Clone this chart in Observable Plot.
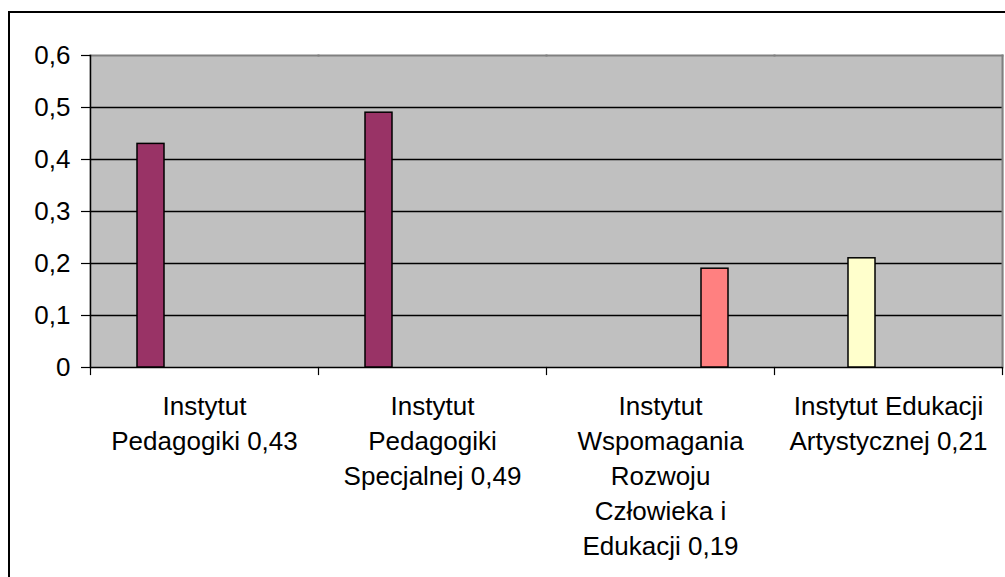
<!DOCTYPE html>
<html>
<head>
<meta charset="utf-8">
<script src="https://cdn.jsdelivr.net/npm/d3@7"></script>
<script src="https://cdn.jsdelivr.net/npm/@observablehq/plot@0.6"></script>
<style>
  html, body { margin: 0; padding: 0; background: #fff; overflow: hidden; }
  #wrap { position: relative; width: 1005px; height: 577px; }
  #border { position: absolute; left: 8px; top: 11px; width: 1100px; height: 700px;
            border-left: 2px solid #000; border-top: 2px solid #000; pointer-events: none; }
  #chart { position: absolute; left: 0; top: 0; }
</style>
</head>
<body>
<div id="wrap"><div id="chart"></div><div id="border"></div></div>
<script>
// Data
const categories = [
  "Instytut Pedagogiki",
  "Instytut Pedagogiki Specjalnej",
  "Instytut Wspomagania Rozwoju Człowieka i Edukacji",
  "Instytut Edukacji Artystycznej"
];
const categoryLabels = [
  "Instytut\nPedagogiki 0,43",
  "Instytut\nPedagogiki\nSpecjalnej 0,49",
  "Instytut\nWspomagania\nRozwoju\nCzłowieka i\nEdukacji 0,19",
  "Instytut Edukacji\nArtystycznej 0,21"
];
const values = [0.43, 0.49, 0.19, 0.21];
const seriesSlots = ["s1", "s2", "s3", "s4", "s5"];
const barSeries = ["s1", "s1", "s5", "s2"];
const barColors = ["#993366", "#993366", "#FF8080", "#FFFFCC"];
const yTicks = [0, 0.1, 0.2, 0.3, 0.4, 0.5, 0.6];
const yTickLabels = ["0", "0,1", "0,2", "0,3", "0,4", "0,5", "0,6"];

const table = categories.map((c, i) => ({
  category: c, value: values[i], series: barSeries[i], color: barColors[i]
}));

const chart = Plot.plot({
  width: 1005,
  height: 577,
  marginLeft: 90,
  marginRight: 3,
  marginTop: 55,
  marginBottom: 210,
  style: { fontFamily: "'Liberation Sans', Arial, sans-serif", fontSize: "26px", background: "transparent", overflow: "visible" },
  fx: { domain: categories, padding: 0, axis: null, label: null },
  x: { domain: seriesSlots, paddingInner: 0, paddingOuter: 1.69, axis: null, label: null },
  y: { domain: [0, 0.6], axis: null, label: null },
  marks: [
    Plot.frame({ fill: "#C0C0C0", stroke: "none", insetLeft: -1, insetRight: -1 }),
    Plot.gridY(yTicks.filter(t => t > 0 && t < 0.6), { stroke: "#000", strokeOpacity: 1, strokeWidth: 1.5 }),
    Plot.frame({ anchor: "top", stroke: "#808080", strokeWidth: 2 }),
    Plot.frame({ anchor: "right", facetAnchor: "right", stroke: "#808080", strokeWidth: 2 }),
    Plot.frame({ anchor: "left", facetAnchor: "left", stroke: "#000", strokeWidth: 1.5 }),
    Plot.frame({ anchor: "left", insetTop: 312, insetBottom: -7, stroke: "#000", strokeWidth: 1.2 }),
    Plot.frame({ anchor: "right", facetAnchor: "right", insetTop: 312, insetBottom: -7, stroke: "#000", strokeWidth: 1.2 }),
    Plot.ruleY([0], { stroke: "#000", strokeWidth: 1.5 }),
    Plot.barY(table, {
      fx: "category", x: "series", y: "value",
      fill: d => d.color, stroke: "#000", strokeWidth: 1.5
    }),
    Plot.text(categories, {
      fx: d => d,
      text: (d, i) => categoryLabels[i],
      frameAnchor: "bottom",
      dy: 23,
      lineAnchor: "top",
      lineHeight: 1.346,
      fontSize: 26,
      fill: "#000"
    }),
    Plot.axisY(yTicks, {
      label: null,
      tickFormat: (d, i) => yTickLabels[i],
      tickSize: 9,
      tickPadding: 11,
      fontSize: 26,
      stroke: "#000",
      strokeOpacity: 1,
      strokeWidth: 1.2,
      fill: "#000"
    })
  ]
});
document.getElementById("chart").appendChild(chart);
</script>
</body>
</html>
